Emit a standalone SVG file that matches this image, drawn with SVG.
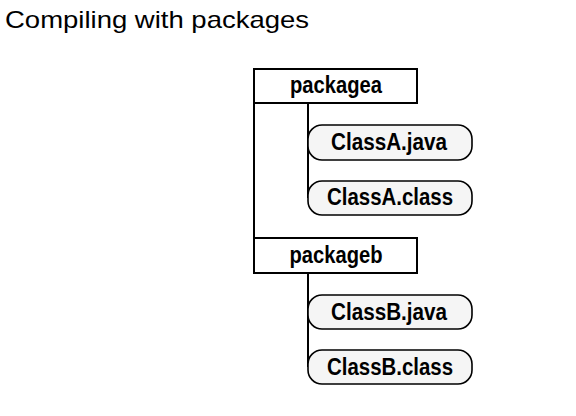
<svg xmlns="http://www.w3.org/2000/svg" width="576" height="416" viewBox="0 0 576 416">
<style>
.pkg{fill:#fff;stroke:#000;stroke-width:2}
.file{fill:#f5f5f5;stroke:#000;stroke-width:1.6}
.lbl{font-family:"Liberation Sans",Arial,sans-serif;font-weight:bold;font-size:23px;fill:#000;text-anchor:middle}
.ln{stroke:#000;stroke-width:2;fill:none}
.title{font-family:"Liberation Sans",Arial,sans-serif;font-size:24px;fill:#000}
</style>
<rect width="576" height="416" fill="#fff"/>
<text class="title" x="5" y="28" textLength="304" lengthAdjust="spacingAndGlyphs">Compiling with packages</text>
<g id="connectors">
<path class="ln" d="M254 103 V238"/>
<path class="ln" d="M308 103 V198"/>
<path class="ln" d="M308 273 V367"/>
</g>
<g id="packagea">
<rect class="pkg" x="254" y="69" width="163" height="34"/>
<text class="lbl" x="336" y="93" textLength="92" lengthAdjust="spacingAndGlyphs">packagea</text>
</g>
<g id="classa-java">
<rect class="file" x="308" y="125" width="164" height="35" rx="14"/>
<text class="lbl" x="389" y="150" textLength="116" lengthAdjust="spacingAndGlyphs">ClassA.java</text>
</g>
<g id="classa-class">
<rect class="file" x="308" y="181" width="164" height="34" rx="14"/>
<text class="lbl" x="390" y="205" textLength="126" lengthAdjust="spacingAndGlyphs">ClassA.class</text>
</g>
<g id="packageb">
<rect class="pkg" x="254" y="238" width="163" height="35"/>
<text class="lbl" x="336" y="263" textLength="93" lengthAdjust="spacingAndGlyphs">packageb</text>
</g>
<g id="classb-java">
<rect class="file" x="308" y="295" width="164" height="34" rx="14"/>
<text class="lbl" x="389" y="320" textLength="116" lengthAdjust="spacingAndGlyphs">ClassB.java</text>
</g>
<g id="classb-class">
<rect class="file" x="308" y="350" width="164" height="34" rx="14"/>
<text class="lbl" x="390" y="375" textLength="126" lengthAdjust="spacingAndGlyphs">ClassB.class</text>
</g>
</svg>
